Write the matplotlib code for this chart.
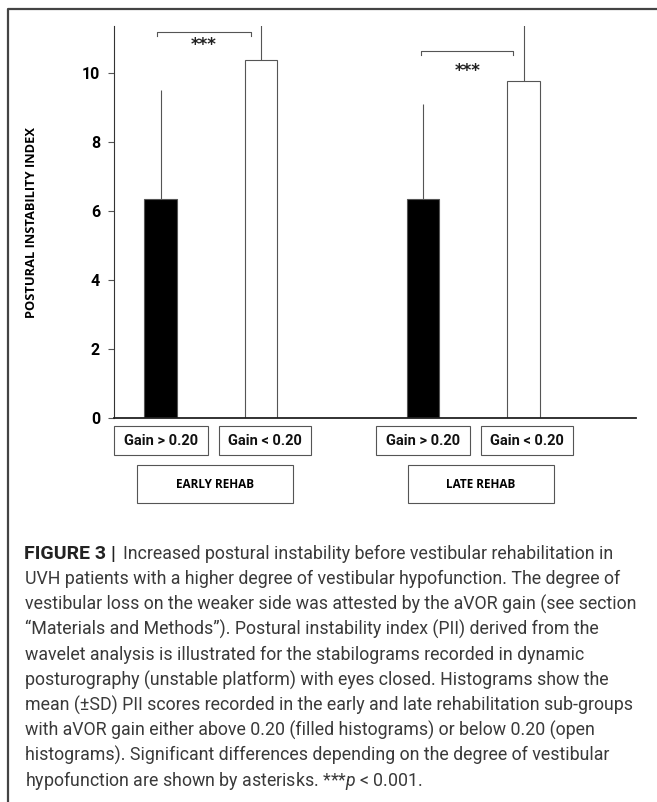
import matplotlib
matplotlib.use('Agg')
import matplotlib.pyplot as plt
from matplotlib.patches import Rectangle

# Data
groups = ['EARLY REHAB', 'LATE REHAB']
gain_labels = ['Gain > 0.20', 'Gain < 0.20', 'Gain > 0.20', 'Gain < 0.20']
means = [6.35, 10.36, 6.33, 9.76]
sds = [3.15, 3.3, 2.75, 3.4]
fills = ['black', 'white', 'black', 'white']
yticks = [0, 2, 4, 6, 8, 10]
caption_lines = [
    "Increased postural instability before vestibular rehabilitation in",
    "UVH patients with a higher degree of vestibular hypofunction. The degree of",
    "vestibular loss on the weaker side was attested by the aVOR gain (see section",
    "\u201cMaterials and Methods\u201d). Postural instability index (PII) derived from the",
    "wavelet analysis is illustrated for the stabilograms recorded in dynamic",
    "posturography (unstable platform) with eyes closed. Histograms show the",
    "mean (\u00b1SD) PII scores recorded in the early and late rehabilitation sub-groups",
    "with aVOR gain either above 0.20 (filled histograms) or below 0.20 (open",
    "histograms). Significant differences depending on the degree of vestibular",
    "hypofunction are shown by asterisks. ***$p$ < 0.001.",
]

plt.rcParams['mathtext.fontset'] = 'custom'
plt.rcParams['mathtext.it'] = 'Roboto:italic'
plt.rcParams['mathtext.rm'] = 'Roboto'

W, H = 657, 802
fig = plt.figure(figsize=(W / 100, H / 100), dpi=100)

# bar positions in axis units
xpos = [0.463, 1.463, 3.075, 4.075]
bw = 0.32

ax = fig.add_axes([114 / W, 1 - 418 / H, 522 / W, 392 / H])
ax.bar(xpos, means, width=bw, color=fills, edgecolor='#555555', linewidth=0.8, zorder=2)
ax.errorbar(xpos, means, yerr=[[0] * 4, sds], fmt='none', ecolor='#555555',
            elinewidth=0.8, capsize=0, zorder=1)
ax.set_xlim(0, 5.194)
ax.set_ylim(0, 11.35)
ax.spines['top'].set_visible(False)
ax.spines['right'].set_visible(False)
ax.spines['left'].set_color('#333333')
ax.spines['bottom'].set_color('#222222')
ax.spines['bottom'].set_linewidth(1.3)
ax.set_xticks([])
ax.set_yticks(yticks)
ax.set_yticklabels([str(t) for t in yticks], fontfamily='Roboto', fontweight='bold', fontsize=11.5)
ax.tick_params(axis='y', length=4, width=0.8, color='#555555', pad=6)
ax.set_ylabel('POSTURAL INSTABILITY INDEX', fontfamily='Open Sans', fontweight='bold',
              fontsize=9.3)
ax.yaxis.set_label_coords(-0.146, 0.5)

# significance brackets
def bracket(x0, x1, y, ystar):
    ax.plot([x0, x0, x1, x1], [y - 0.12, y, y, y - 0.12], color='#555555', lw=0.8, clip_on=False)
    ax.text((x0 + x1) / 2, ystar, '***', ha='center', va='center', fontsize=12,
            fontweight='bold', color='#222222')

bracket(xpos[0] - 0.04, xpos[1] - 0.1, 11.17, 10.8)
bracket(xpos[2] - 0.02, xpos[3] - 0.1, 10.62, 10.05)

# overlay in pixel coordinates for boxes and caption
ov = fig.add_axes([0, 0, 1, 1], zorder=-1)
ov.set_xlim(0, W)
ov.set_ylim(H, 0)
ov.axis('off')
ov.plot([8, 8, W], [H, 8.5, 8.5], color='#444444', lw=1.6)

gain_boxes = [(113.5, 208), (219, 311), (376, 469.6), (480.5, 572.7)]
for (x0, x1), lab in zip(gain_boxes, gain_labels):
    ov.add_patch(Rectangle((x0, 426), x1 - x0, 29, fill=False, edgecolor='#555555', lw=0.8))
    ov.text((x0 + x1) / 2, 441, lab, ha='center', va='center', fontfamily='Roboto',
            fontweight='bold', fontsize=10.5, color='#111111')

group_boxes = [(137, 293), (407.6, 554)]
for (x0, x1), lab in zip(group_boxes, groups):
    ov.add_patch(Rectangle((x0, 465), x1 - x0, 38, fill=False, edgecolor='#555555', lw=0.8))
    ov.text((x0 + x1) / 2, 484, lab, ha='center', va='center', fontfamily='Open Sans',
            fontweight='bold', fontsize=8.5)

# caption
y0 = 554
cap = dict(ha='left', va='center', fontfamily='Roboto', fontsize=12.8, color='#3a3a3a')
ov.text(24, y0, 'FIGURE 3 |', fontweight='bold', **dict(cap, color='#222222', fontsize=14))
ov.text(123, y0, caption_lines[0], **cap)
for i, line in enumerate(caption_lines[1:], start=1):
    ov.text(25, y0 + i * 25.2, line, **cap)

fig.savefig('out.png', dpi=100)
